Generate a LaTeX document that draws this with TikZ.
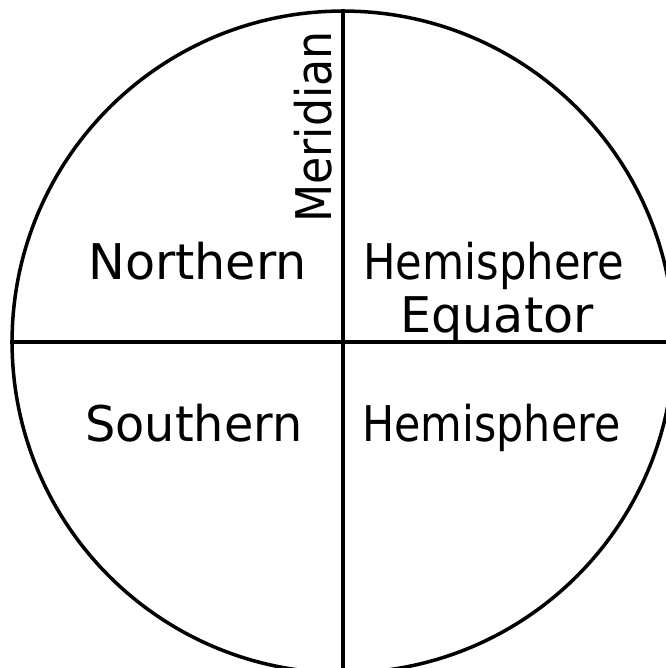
\documentclass[tikz,border=0pt]{standalone}
\usepackage{fontspec}
\setmainfont{DejaVu Sans}
\usepackage{tikz}
\usetikzlibrary{positioning}
\tikzset{
  globeline/.style={line width=2pt, draw=black},
  handlabel/.style={font=\fontsize{28}{32}\selectfont, anchor=base west, inner sep=0pt}
}

\begin{document}
\begin{tikzpicture}[x=0.02cm, y=0.02cm]
    \useasboundingbox (0,0) rectangle (665,668);
    \node[globeline, circle, minimum size=13.24cm, inner sep=0pt] (globe) at (343,326) {};

    \draw[globeline] (globe.north) -- (globe.south);
    \draw[globeline] (globe.west) -- (globe.east);

    \node[handlabel, rotate=90, xscale=0.9] (meridian) at (331,445) {Meridian};
    \node[handlabel] (northern) at (88,388) {Northern};
    \node[handlabel, xscale=0.88] (hemnorth) at (363,388) {Hemisphere};
    \node[handlabel] (equator) at (400,335) {Equator};
    \node[handlabel, xscale=0.97] (southern) at (85,226) {Southern};
    \node[handlabel, xscale=0.87] (hemsouth) at (362,226) {Hemisphere};
  \end{tikzpicture}
\end{document}
